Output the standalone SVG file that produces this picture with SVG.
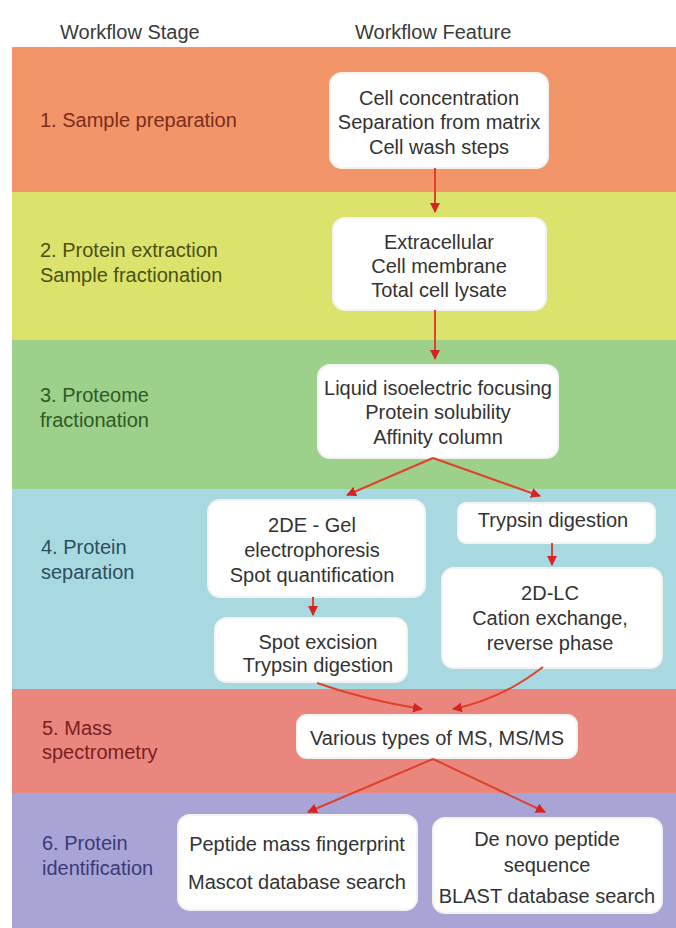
<svg xmlns="http://www.w3.org/2000/svg" width="676" height="928" viewBox="0 0 676 928">
  <style>
    .hdr { font-family: "Liberation Sans", Arial, sans-serif; font-size: 20px; fill: #3a3a3a; }
    .lbl { font-family: "Liberation Sans", Arial, sans-serif; font-size: 20px; }
    .box { fill: #ffffff; stroke: #f3f3f3; stroke-width: 2; }
    .bt { font-family: "Liberation Sans", Arial, sans-serif; font-size: 20px; fill: #333333; text-anchor: middle; }
    .conn { fill: none; stroke: #e0412c; stroke-width: 2; }
  </style>
  <defs>
    <marker id="ah" markerUnits="userSpaceOnUse" markerWidth="10" markerHeight="10" refX="9" refY="5" orient="auto">
      <path d="M0,0 L10,5 L0,10 z" fill="#d42424"/>
    </marker>
  </defs>

  <rect x="0" y="0" width="676" height="928" fill="#ffffff"/>

  <g id="header">
    <text class="hdr" x="60" y="39">Workflow Stage</text>
    <text class="hdr" x="355" y="39">Workflow Feature</text>
  </g>

  <g id="bands">
    <rect x="12" y="47" width="664" height="145" fill="#f29568"/>
    <rect x="12" y="192" width="664" height="148" fill="#dbe36d"/>
    <rect x="12" y="340" width="664" height="149" fill="#9cd08b"/>
    <rect x="12" y="489" width="664" height="200" fill="#a9d9e0"/>
    <rect x="12" y="689" width="664" height="104" fill="#e9877f"/>
    <rect x="12" y="793" width="664" height="135" fill="#a9a4d6"/>
  </g>

  <g id="stage-labels">
    <text class="lbl" x="40" y="127" fill="#7a2e1a">1. Sample preparation</text>
    <text class="lbl" x="40" y="257" fill="#4a5012">2. Protein extraction</text>
    <text class="lbl" x="40" y="282" fill="#4a5012">Sample fractionation</text>
    <text class="lbl" x="40" y="402" fill="#2e5a24">3. Proteome</text>
    <text class="lbl" x="40" y="427" fill="#2e5a24">fractionation</text>
    <text class="lbl" x="41" y="554" fill="#2c4e5e">4. Protein</text>
    <text class="lbl" x="41" y="579" fill="#2c4e5e">separation</text>
    <text class="lbl" x="42" y="735" fill="#7a2020">5. Mass</text>
    <text class="lbl" x="42" y="759" fill="#7a2020">spectrometry</text>
    <text class="lbl" x="42" y="850" fill="#3a3a78">6. Protein</text>
    <text class="lbl" x="42" y="875" fill="#3a3a78">identification</text>
  </g>

  <g id="n1">
    <rect class="box" x="330" y="73" width="218" height="95" rx="12"/>
    <text class="bt" x="439" y="105">Cell concentration</text>
    <text class="bt" x="439" y="129">Separation from matrix</text>
    <text class="bt" x="439" y="154">Cell wash steps</text>
  </g>

  <g id="n2">
    <rect class="box" x="333" y="218" width="213" height="92" rx="12"/>
    <text class="bt" x="439" y="249">Extracellular</text>
    <text class="bt" x="439" y="273">Cell membrane</text>
    <text class="bt" x="439" y="297">Total cell lysate</text>
  </g>

  <g id="n3">
    <rect class="box" x="318" y="365" width="240" height="93" rx="12"/>
    <text class="bt" x="438" y="395">Liquid isoelectric focusing</text>
    <text class="bt" x="438" y="419">Protein solubility</text>
    <text class="bt" x="438" y="444">Affinity column</text>
  </g>

  <g id="n4a">
    <rect class="box" x="208" y="500" width="217" height="97" rx="12"/>
    <text class="bt" x="312" y="532">2DE - Gel</text>
    <text class="bt" x="312" y="557">electrophoresis</text>
    <text class="bt" x="312" y="582">Spot quantification</text>
  </g>

  <g id="n4b">
    <rect class="box" x="458" y="503" width="197" height="40" rx="8"/>
    <text class="bt" x="553" y="527">Trypsin digestion</text>
  </g>

  <g id="n4c">
    <rect class="box" x="215" y="618" width="192" height="64" rx="12"/>
    <text class="bt" x="318" y="649">Spot excision</text>
    <text class="bt" x="318" y="672">Trypsin digestion</text>
  </g>

  <g id="n4d">
    <rect class="box" x="442" y="568" width="220" height="100" rx="12"/>
    <text class="bt" x="550" y="600">2D-LC</text>
    <text class="bt" x="550" y="625">Cation exchange,</text>
    <text class="bt" x="550" y="650">reverse phase</text>
  </g>

  <g id="n5">
    <rect class="box" x="297" y="715" width="280" height="43" rx="10"/>
    <text class="bt" x="437" y="745">Various types of MS, MS/MS</text>
  </g>

  <g id="n6a">
    <rect class="box" x="178" y="815" width="239" height="95" rx="12"/>
    <text class="bt" x="297" y="851">Peptide mass fingerprint</text>
    <text class="bt" x="297" y="889">Mascot database search</text>
  </g>

  <g id="n6b">
    <rect class="box" x="433" y="818" width="229" height="95" rx="12"/>
    <text class="bt" x="547" y="846">De novo peptide</text>
    <text class="bt" x="547" y="872">sequence</text>
    <text class="bt" x="547" y="903">BLAST database search</text>
  </g>

  <g id="connectors">
    <line class="conn" x1="435" y1="168" x2="435" y2="212" marker-end="url(#ah)"/>
    <line class="conn" x1="435" y1="310" x2="435" y2="359" marker-end="url(#ah)"/>
    <line class="conn" x1="433" y1="458" x2="347" y2="495" marker-end="url(#ah)"/>
    <line class="conn" x1="433" y1="458" x2="540" y2="496" marker-end="url(#ah)"/>
    <line class="conn" x1="313" y1="597" x2="313" y2="615" marker-end="url(#ah)"/>
    <line class="conn" x1="552" y1="543" x2="552" y2="565" marker-end="url(#ah)"/>
    <path class="conn" d="M317,683 Q365,700 422,709" marker-end="url(#ah)"/>
    <path class="conn" d="M543,667 Q500,700 453,709" marker-end="url(#ah)"/>
    <line class="conn" x1="433" y1="759" x2="308" y2="812" marker-end="url(#ah)"/>
    <line class="conn" x1="433" y1="759" x2="545" y2="812" marker-end="url(#ah)"/>
  </g>
</svg>
